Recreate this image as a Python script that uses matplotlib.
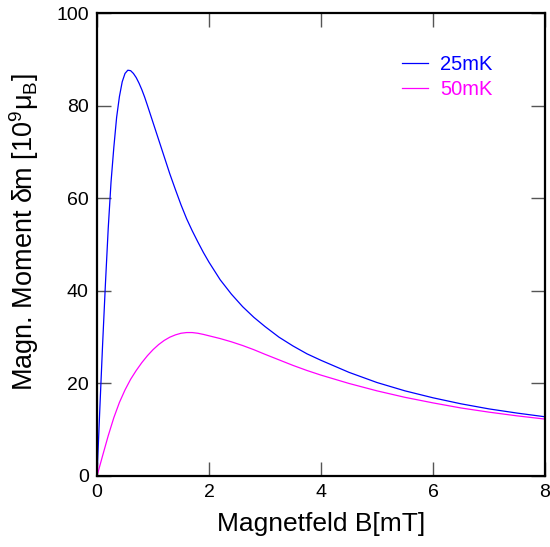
import numpy as np
import matplotlib
matplotlib.use('Agg')
import matplotlib.pyplot as plt

plt.rcParams['font.family'] = ['Liberation Sans', 'DejaVu Sans']
plt.rcParams['mathtext.fontset'] = 'custom'
plt.rcParams['mathtext.rm'] = 'Liberation Sans'
plt.rcParams['mathtext.it'] = 'Liberation Sans'

# values
b_25mk = [0, 0.05, 0.10, 0.15, 0.20, 0.25, 0.30, 0.35, 0.40, 0.45, 0.50, 0.55,
          0.60, 0.65, 0.70, 0.75, 0.80, 0.85, 0.90, 1.0, 1.1, 1.2, 1.3, 1.4,
          1.5, 1.6, 1.7, 1.8, 1.9, 2.0, 2.2, 2.4, 2.6, 2.8, 3.0, 3.25, 3.5,
          3.75, 4.0, 4.5, 5.0, 5.5, 6.0, 6.5, 7.0, 7.5, 8.0]
m_25mk = [0, 14.5, 28.5, 41.5, 53.5, 63.5, 71, 77.5, 82, 85.2, 87.0, 87.7,
          87.6, 87.0, 86.1, 84.9, 83.5, 81.9, 80.1, 76.4, 72.7, 69.0, 65.3, 61.9,
          58.6, 55.6, 53.0, 50.6, 48.3, 46.2, 42.4, 39.3, 36.6, 34.3, 32.3, 30.0, 28.1,
          26.4, 25.0, 22.4, 20.2, 18.4, 16.9, 15.6, 14.5, 13.6, 12.8]

b_50mk = [0, 0.1, 0.2, 0.3, 0.4, 0.5, 0.6, 0.7, 0.8, 0.9, 1.0, 1.1, 1.2, 1.3,
          1.4, 1.5, 1.6, 1.7, 1.8, 1.9, 2.0, 2.2, 2.4, 2.6, 2.8, 3.0, 3.25, 3.5,
          3.75, 4.0, 4.5, 5.0, 5.5, 6.0, 6.5, 7.0, 7.5, 8.0]
m_50mk = [0, 4.4, 8.7, 12.6, 15.9, 18.6, 20.9, 22.8, 24.5, 26.0, 27.3, 28.4, 29.3, 30.0,
          30.5, 30.85, 31.0, 31.0, 30.85, 30.6, 30.3, 29.7, 29.0, 28.2, 27.3, 26.3, 25.1, 23.9,
          22.8, 21.8, 20.0, 18.4, 17.0, 15.8, 14.7, 13.8, 13.0, 12.3]

fig = plt.figure(figsize=(5.5, 5.47), dpi=100)
ax = fig.add_axes([0.1764, 0.1298, 0.8145, 0.8459])

ax.plot(b_25mk, m_25mk, color='#0000ff', lw=0.9, label='25mK')
ax.plot(b_50mk, m_50mk, color='#ff00ff', lw=0.9, label='50mK')

ax.set_xlim(0, 8)
ax.set_ylim(0, 100)
ax.set_xticks(np.arange(0, 9, 2))
ax.set_yticks(np.arange(0, 101, 20))
ax.tick_params(direction='in', length=10, width=1, color='#555555',
               top=True, right=True, labelsize=14, pad=6)
for s in ax.spines.values():
    s.set_linewidth(1.6)

ax.set_xlabel('Magnetfeld B[mT]', fontsize=19, labelpad=8)
ax.set_ylabel(r'Magn. Moment δm [10$^9$μ$_\mathrm{B}$]', fontsize=19.5)
ax.yaxis.set_label_coords(-0.126, 0.527)

ax.legend(loc='upper left', bbox_to_anchor=(0.68, 0.909), frameon=False,
          fontsize=14.5, handlelength=1.3, handletextpad=0.6,
          labelspacing=0.3, borderpad=0, borderaxespad=0,
          labelcolor='linecolor')

fig.savefig('out.png', dpi=100)
